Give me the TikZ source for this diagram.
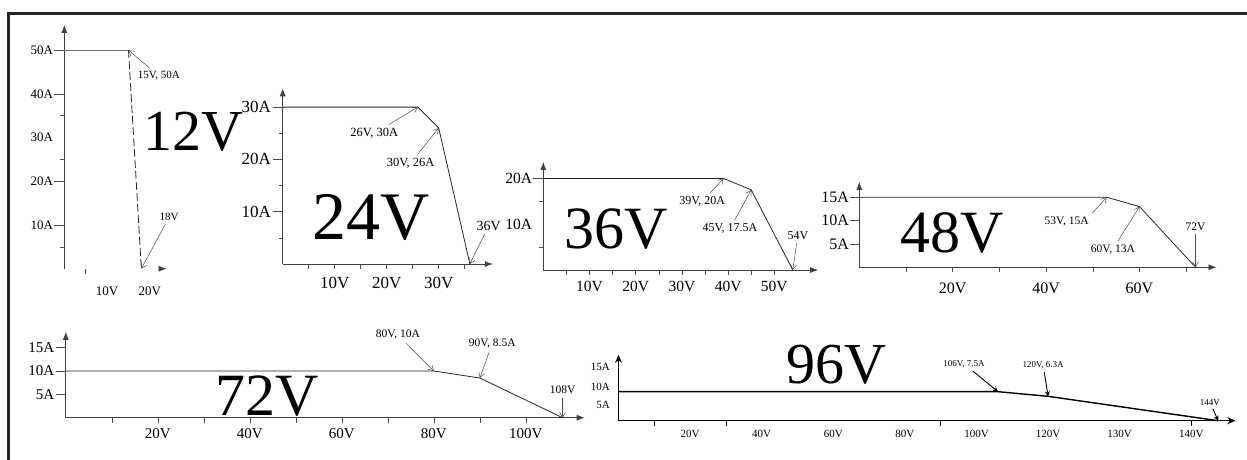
\documentclass[tikz,border=0pt]{standalone}
\usepackage{fontspec}
\setmainfont{Liberation Serif}
\usetikzlibrary{arrows.meta,positioning}
\newcommand{\fsz}[1]{\fontsize{#1}{#1}\selectfont}
\tikzset{
  axisline/.style={draw=black!75,line width=0.8pt,-{Latex[length=8pt,width=6pt]}},
  curveline/.style={draw=black!85,line width=0.8pt},
  tickline/.style={draw=black!70,line width=0.6pt},
  noteline/.style={draw=black!70,line width=0.5pt,-{Straight Barb[length=5pt,width=6pt]}},
  lab/.style={inner sep=1pt},
  big/.style={inner sep=0pt},
}

\begin{document}
\begin{tikzpicture}[x=1pt,y=-1pt]
\useasboundingbox (0,0) rectangle (1247,460);
\draw[line width=2.2pt,black!85] (8.5,460) -- (8.5,13.5) -- (1247,13.5);

\begin{scope}[shift={(64.3,268.7)},x=4.28pt,y=4.37pt,every node/.style={font=\fsz{13}}]
  \coordinate (o1) at (0,0);
  \coordinate (ya1) at (0,55.8);
  \coordinate (xs1) at (22.4,0);
  \coordinate (xa1) at (23.9,0);
  \draw[axisline] (o1) -- (ya1);
  \draw[axisline] (xs1) -- (xa1);
  \foreach \a in {10,20,40,50} \draw[tickline] (0,\a) -- ++(-10pt,0);
  \foreach \a in {5,25,35} \draw[tickline] (0,\a) -- ++(-4pt,0);
  \foreach \a in {10,20,30,40,50}
    \node[lab,anchor=east] (y1-\a) at ([xshift=-10pt]0,\a) {\a A};
  \draw[tickline] (5,0) -- ++(0,-5pt);
  \foreach \v in {10,20}
    \node[lab] (x1-\v) at ([yshift=-23pt]\v,0) {\v V};
  \coordinate (p1a) at (15,50);
  \coordinate (p1b) at (18,0);
  \draw[curveline,black!55] (0,50) -- (p1a);
  \draw[curveline,dash pattern=on 8pt off 3pt] (p1a) -- (p1b);
  \node[font=\fsz{11}] (n1a) at (22.1,44.1) {15V, 50A};
  \node[font=\fsz{11}] (n1b) at (24.5,11.8) {18V};
  \draw[noteline] (n1a) -- (p1a);
  \draw[noteline] (n1b) -- (p1b);
  \node[big,font=\fsz{58}] (t12) at (30.2,31.4) {12V};
\end{scope}

\begin{scope}[shift={(282.7,264)},x=5.2pt,y=5.23pt,every node/.style={font=\fsz{17}}]
  \coordinate (o2) at (0,0);
  \coordinate (ya2) at (0,33.6);
  \coordinate (xa2) at (40.4,0);
  \draw[axisline] (o2) -- (ya2);
  \draw[axisline] (o2) -- (xa2);
  \foreach \a in {10,20,30} \draw[tickline] (0,\a) -- ++(-10pt,0);
  \foreach \a in {5,15,25} \draw[tickline] (0,\a) -- ++(-4pt,0);
  \foreach \a in {10,20,30}
    \node[lab,anchor=east] (y2-\a) at ([xshift=-10.7pt]0,\a) {\a A};
  \foreach \v in {5,10,...,35} \draw[tickline] (\v,0) -- ++(0,-5pt);
  \foreach \v in {10,20,30}
    \node[lab] (x2-\v) at ([yshift=-19.3pt]\v,0) {\v V};
  \coordinate (p2a) at (26,30);
  \coordinate (p2b) at (30,26);
  \coordinate (p2c) at (36,0);
  \draw[curveline] (0,30) -- (p2a) -- (p2b) -- (p2c);
  \node[font=\fsz{12.5}] (n2a) at (17.6,25.0) {26V, 30A};
  \node[font=\fsz{12.5}] (n2b) at (24.6,19.3) {30V, 26A};
  \node[font=\fsz{14}] (n2c) at (39.6,7.3) {36V};
  \draw[noteline] (n2a) -- (p2a);
  \draw[noteline] (n2b) -- (p2b);
  \draw[noteline] (n2c) -- (p2c);
  \node[big,font=\fsz{68}] (t24) at (17.0,8.8) {24V};
\end{scope}

\begin{scope}[shift={(543.3,270)},x=4.62pt,y=4.58pt,every node/.style={font=\fsz{15.5}}]
  \coordinate (o3) at (0,0);
  \coordinate (ya3) at (0,23.6);
  \coordinate (xa3) at (59.5,0);
  \draw[axisline] (o3) -- (ya3);
  \draw[axisline] (o3) -- (xa3);
  \draw[tickline] (0,20) -- ++(-10pt,0);
  \foreach \a in {5,15} \draw[tickline] (0,\a) -- ++(-4pt,0);
  \foreach \a in {10,20}
    \node[lab,anchor=east] (y3-\a) at ([xshift=-10pt]0,\a) {\a A};
  \foreach \v in {5,10,...,50} \draw[tickline] (\v,0) -- ++(0,-5pt);
  \foreach \v in {10,20,...,50}
    \node[lab] (x3-\v) at ([yshift=-16.7pt]\v,0) {\v V};
  \coordinate (p3a) at (39,20);
  \coordinate (p3b) at (45,17.5);
  \coordinate (p3c) at (54,0);
  \draw[curveline] (0,20) -- (p3a) -- (p3b) -- (p3c);
  \node[font=\fsz{12}] (n3a) at (34.4,14.9) {39V, 20A};
  \node[font=\fsz{12}] (n3b) at (40.4,9.0) {45V, 17.5A};
  \node[font=\fsz{12}] (n3c) at (55.1,7.6) {54V};
  \draw[noteline] (n3a) -- (p3a);
  \draw[noteline] (n3b) -- (p3b);
  \draw[noteline] (n3c) -- (p3c);
  \node[big,font=\fsz{60}] (t36) at (15.7,9.0) {36V};
\end{scope}

\begin{scope}[shift={(859.3,267.3)},x=4.67pt,y=4.67pt,every node/.style={font=\fsz{16}}]
  \coordinate (o4) at (0,0);
  \coordinate (ya4) at (0,18.3);
  \coordinate (xa4) at (76.5,0);
  \draw[axisline] (o4) -- (ya4);
  \draw[axisline] (o4) -- (xa4);
  \foreach \a in {5,10,15} {
    \draw[tickline] (0,\a) -- ++(-9.3pt,0);
    \node[lab,anchor=east] (y4-\a) at ([xshift=-9.3pt]0,\a) {\a A};
  }
  \foreach \v in {10,20,...,70} \draw[tickline] (\v,0) -- ++(0,-5pt);
  \foreach \v in {20,40,60}
    \node[lab] (x4-\v) at ([yshift=-21pt]\v,0) {\v V};
  \coordinate (p4a) at (53,15);
  \coordinate (p4b) at (60,13);
  \coordinate (p4c) at (72,0);
  \draw[curveline] (0,15) -- (p4a) -- (p4b) -- (p4c);
  \node[font=\fsz{11.5}] (n4a) at (44.4,9.8) {53V, 15A};
  \node[font=\fsz{11.5}] (n4b) at (54.3,3.9) {60V, 13A};
  \node[font=\fsz{11.5},above=33pt of p4c] (n4c) {72V};
  \draw[noteline] (n4a.north east) -- (p4a);
  \draw[noteline] (n4b) -- (p4b);
  \draw[noteline] (n4c) -- (p4c);
  \node[big,font=\fsz{60}] (t48) at (19.8,7.3) {48V};
\end{scope}

\begin{scope}[shift={(65.8,417.7)},x=4.6pt,y=4.67pt,every node/.style={font=\fsz{15}}]
  \coordinate (o5) at (0,0);
  \coordinate (ya5) at (0,18.4);
  \coordinate (xa5) at (112.8,0);
  \draw[axisline] (o5) -- (ya5);
  \draw[axisline] (o5) -- (xa5);
  \foreach \a in {5,10,15} {
    \draw[tickline] (0,\a) -- ++(-10.3pt,0);
    \node[lab,anchor=east] (y5-\a) at ([xshift=-10.3pt]0,\a) {\a A};
  }
  \foreach \v in {10,20,...,100} \draw[tickline] (\v,0) -- ++(0,-5pt);
  \foreach \v in {20,40,...,100}
    \node[lab] (x5-\v) at ([yshift=-16.3pt]\v,0) {\v V};
  \coordinate (p5a) at (80,10);
  \coordinate (p5b) at (90,8.5);
  \coordinate (p5c) at (108,0);
  \draw[curveline] (0,10) -- (p5a) -- (p5b) -- (p5c);
  \node[font=\fsz{11.5}] (n5a) at (72.2,17.7) {80V, 10A};
  \node[font=\fsz{11.5}] (n5b) at (92.7,15.8) {90V, 8.5A};
  \node[font=\fsz{11.5},above=20pt of p5c] (n5c) {108V};
  \draw[noteline] (n5a) -- (p5a);
  \draw[noteline] (n5b) -- (p5b);
  \draw[noteline] (n5c) -- (p5c);
  \node[big,font=\fsz{60}] (t72) at (43.8,4.6) {72V};
\end{scope}

\begin{scope}[shift={(618.5,420.7)},x=3.58pt,y=3.87pt,every node/.style={font=\fsz{11}},
  axisline/.append style={draw=black,line width=1.2pt,-{Stealth[length=8pt,width=7pt]}},
  noteline/.append style={draw=black,line width=0.9pt,-{Stealth[length=5pt,width=5pt]}}]
  \coordinate (o6) at (0,0);
  \coordinate (ya6) at (0,17);
  \coordinate (xa6) at (172.3,0);
  \draw[axisline] (o6) -- (ya6);
  \draw[axisline] (o6) -- (xa6);
  \foreach \a/\y in {5/4.1,10/8.7,15/13.8}
    \node[lab,anchor=east] (y6-\a) at ([xshift=-7.5pt]0,\y) {\a A};
  \foreach \v in {10,30,90,160} \draw[tickline,black] (\v,0) -- ++(0,-5pt);
  \foreach \v/\t in {20/20,40/40,60/60,80/80,100/100,120/120,140/130,160/140}
    \node[lab] (x6-\v) at ([yshift=-13.3pt]\v,0) {\t V};
  \coordinate (p6a) at (106,7.5);
  \coordinate (p6b) at (120,6.3);
  \coordinate (p6c) at (167.5,0);
  \draw[curveline,draw=black,line width=1.4pt] (0,7.5) -- (p6a) -- (p6b) -- (p6c);
  \node[font=\fsz{9}] (n6a) at (96.5,14.7) {106V, 7.5A};
  \node[font=\fsz{9}] (n6b) at (118.6,14.4) {120V, 6.3A};
  \node[font=\fsz{9}] (n6c) at (165.2,4.8) {144V};
  \draw[noteline] (n6a) -- (p6a);
  \draw[noteline] (n6b) -- (p6b);
  \draw[noteline] (n6c) -- (p6c);
  \node[big,font=\fsz{58}] (t96) at (60.8,14.4) {96V};
\end{scope}
\end{tikzpicture}
\end{document}
